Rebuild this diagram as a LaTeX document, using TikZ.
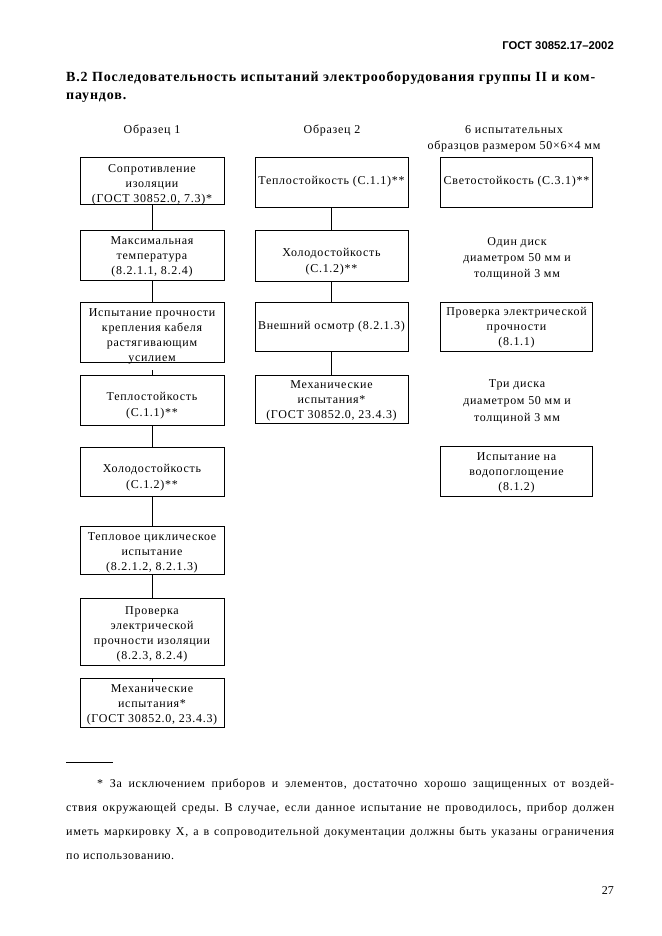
\documentclass[tikz,border=0pt]{standalone}
\usepackage{fontspec}
\setmainfont{Liberation Serif}
\newfontfamily\hdrfont{Liberation Sans}
\newfontfamily\wfont[LetterSpace=6]{Liberation Serif}
% #1 = downward shift of the text block inside its box, #2 = text
\newcommand{\tbx}[2]{\rule{0pt}{\dimexpr9pt+#1*2\relax}#2\rule[-3pt]{0pt}{0pt}}
\begin{document}
\frenchspacing
\begin{tikzpicture}[x=1pt,y=-1pt,
  box/.style={draw, line width=0.7pt, align=center, inner sep=0pt, font=\wfont\fontsize{12}{15}\selectfont},
  twoline/.style={font=\wfont\fontsize{12}{16}\selectfont},
  lbl/.style={align=center, inner sep=0pt, font=\wfont\fontsize{12}{16}\selectfont},
  conn/.style={line width=0.7pt}]
\useasboundingbox[fill=white] (0,0) rectangle (661,936);
% header
\node[anchor=base east, inner sep=0pt, font=\hdrfont\bfseries\fontsize{11.3}{12}\selectfont] (hdr) at (614,50) {ГОСТ 30852.17–2002};
\node[anchor=base west, align=left, inner sep=0pt, font=\wfont\bfseries\fontsize{14}{18}\selectfont] (title) at (66,100) {В.2 Последовательность испытаний электрооборудования группы II и ком-\\паундов.};
% column labels
\node[lbl] (s1) at (152,130.5) {Образец 1};
\node[lbl] (s2) at (332,130.5) {Образец 2};
\node[lbl] (s3) at (514,138.5) {6 испытательных\\образцов размером 50×6×4 мм};
% column 1
\node[box, minimum width=144pt, minimum height=47pt, text height=44pt, text depth=0pt] (b1) at (152,180.5) {Сопротивление\\изоляции\\(ГОСТ 30852.0, 7.3)*};
\node[box, minimum width=144pt, minimum height=50pt] (b2) at (152,255) {\tbx{1.5pt}{Максимальная\\температура\\(8.2.1.1, 8.2.4)}};
\node[box, minimum width=144pt, minimum height=60pt, text height=58pt, text depth=0pt] (b3) at (152,332) {Испытание прочности\\крепления кабеля\\растягивающим\\усилием};
\node[box, twoline, minimum width=144pt, minimum height=50pt] (b4) at (152,400) {\tbx{5pt}{Теплостойкость\\(С.1.1)**}};
\node[box, twoline, minimum width=144pt, minimum height=49pt] (b5) at (152,472) {\tbx{5pt}{Холодостойкость\\(С.1.2)**}};
\node[box, minimum width=144pt, minimum height=48pt] (b6) at (152,550) {\tbx{2pt}{Тепловое циклическое\\испытание\\(8.2.1.2, 8.2.1.3)}};
\node[box, minimum width=144pt, minimum height=67pt] (b7) at (152,631.5) {\tbx{2pt}{Проверка\\электрической\\прочности изоляции\\(8.2.3, 8.2.4)}};
\node[box, minimum width=144pt, minimum height=49pt] (b8) at (152,702.5) {\tbx{1.5pt}{Механические\\испытания*\\(ГОСТ 30852.0, 23.4.3)}};
% column 2
\node[box, minimum width=153pt, minimum height=50pt] (c1) at (331.5,182) {\tbx{0pt}{Теплостойкость (С.1.1)**}};
\node[box, twoline, minimum width=153pt, minimum height=51pt] (c2) at (331.5,255.5) {\tbx{5.5pt}{Холодостойкость\\(С.1.2)**}};
\node[box, minimum width=153pt, minimum height=49pt] (c3) at (331.5,326.5) {\tbx{0pt}{Внешний осмотр (8.2.1.3)}};
\node[box, minimum width=153pt, minimum height=48pt] (c4) at (331.5,399) {\tbx{1.5pt}{Механические\\испытания*\\(ГОСТ 30852.0, 23.4.3)}};
% column 3
\node[box, minimum width=152pt, minimum height=50pt] (d1) at (516.5,182) {\tbx{0pt}{Светостойкость (С.3.1)**}};
\node[lbl] (t1) at (517,259) {Один диск\\диаметром 50 мм и\\толщиной 3 мм};
\node[box, minimum width=152pt, minimum height=49pt] (d2) at (516.5,326.5) {\tbx{1pt}{Проверка электрической\\прочности\\(8.1.1)}};
\node[lbl, font=\wfont\fontsize{12}{17}\selectfont] (t2) at (517,401.5) {Три диска\\диаметром 50 мм и\\толщиной 3 мм};
\node[box, minimum width=152pt, minimum height=50pt] (d3) at (516.5,471) {\tbx{1pt}{Испытание на\\водопоглощение\\(8.1.2)}};
% connectors
\draw[conn] (b1) -- (b2);
\draw[conn] (b2) -- (b3);
\draw[conn] ([yshift=-8pt]b3.south) -- (b4.north);
\draw[conn] (b4) -- (b5);
\draw[conn] (b5) -- (b6);
\draw[conn] (b6) -- (b7);
\draw[conn] ([yshift=-17pt]b7.south) -- (b8.north);
\draw[conn] (c1) -- (c2);
\draw[conn] (c2) -- (c3);
\draw[conn] (c3) -- (c4);
% footnote
\coordinate (fr1) at (66,762);
\coordinate (fr2) at (113,762);
\draw[line width=0.5pt] (fr1) -- (fr2);
\node[anchor=base west, inner sep=0pt, text width=548pt, align=justify, font=\wfont\fontsize{12}{24}\selectfont] (fn) at (66,787) {\hspace*{31pt}* За исключением приборов и элементов, достаточно хорошо защищенных от воздей-\linebreak ствия окружающей среды. В случае, если данное испытание не проводилось, прибор должен\linebreak иметь маркировку X, а в сопроводительной документации должны быть указаны ограничения\linebreak по использованию.};
\node[anchor=base east, inner sep=0pt, font=\fontsize{12}{14}\selectfont] (pg) at (614,894) {27};
\end{tikzpicture}
\end{document}
